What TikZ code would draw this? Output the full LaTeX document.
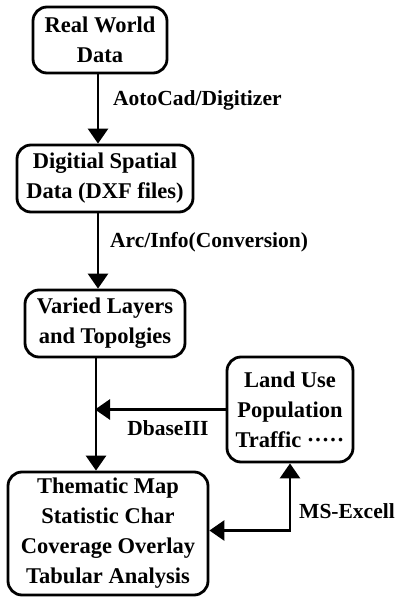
\documentclass[tikz,border=0pt]{standalone}
\usepackage{fontspec}
\setmainfont{Liberation Serif}
\usetikzlibrary{arrows.meta}
\tikzset{
  stage/.style={draw, line width=2.8pt, rounded corners=14pt, align=center,
    inner sep=0pt, font=\bfseries\fontsize{22.5}{30}\selectfont},
  flow/.style={line width=2.8pt, -{Triangle[width=20pt,length=15pt]}},
  tool/.style={font=\bfseries\fontsize{21.5}{24}\selectfont, inner sep=0pt}
}
\begin{document}
\begin{tikzpicture}[x=1pt,y=-1pt]
\useasboundingbox (0,0) rectangle (399,601);
\node[stage, minimum width=134pt, minimum height=66pt] (real) at (100,40) {Real World\\Data};
\node[stage, minimum width=176pt, minimum height=67pt] (dxf) at (105,178.5) {Digitial Spatial\\Data (DXF files)};
\node[stage, minimum width=160pt, minimum height=67pt] (layers) at (105,323.5) {Varied Layers\\and Topolgies};
\node[stage, minimum width=200pt, minimum height=123pt] (thematic) at (108,533.5) {Thematic Map\\Statistic Char\\Coverage Overlay\\Tabular Analysis};
\node[stage, minimum width=126pt, minimum height=105pt] (attrib) at (290,409.5) {Land Use\\Population\\Traffic ·····};

\draw[flow] ([xshift=-2pt]real.south) -- ([xshift=-2pt]real.south |- dxf.north);
\draw[flow] ([xshift=-7pt]dxf.south) -- ([xshift=-7pt]dxf.south |- layers.north);
\coordinate (trunk) at ([xshift=-9pt]layers.south);
\draw[flow] (trunk) -- (trunk |- thematic.north);
\draw[flow, shorten >=-1pt] (attrib.west) -- (attrib.west -| trunk);
\draw[flow, {Triangle[width=20pt,length=15pt]}-{Triangle[width=20pt,length=15pt]}] ([yshift=3pt]thematic.east) -| (attrib.south);

\node[tool, anchor=west] (autocad) at (113,100) {AotoCad/Digitizer};
\node[tool, anchor=west] (arcinfo) at (110,242) {Arc/Info(Conversion)};
\node[tool] (dbase) at (168,428) {DbaseIII};
\node[tool, anchor=west] (excel) at (299,511) {MS-Excell};
\end{tikzpicture}
\end{document}
